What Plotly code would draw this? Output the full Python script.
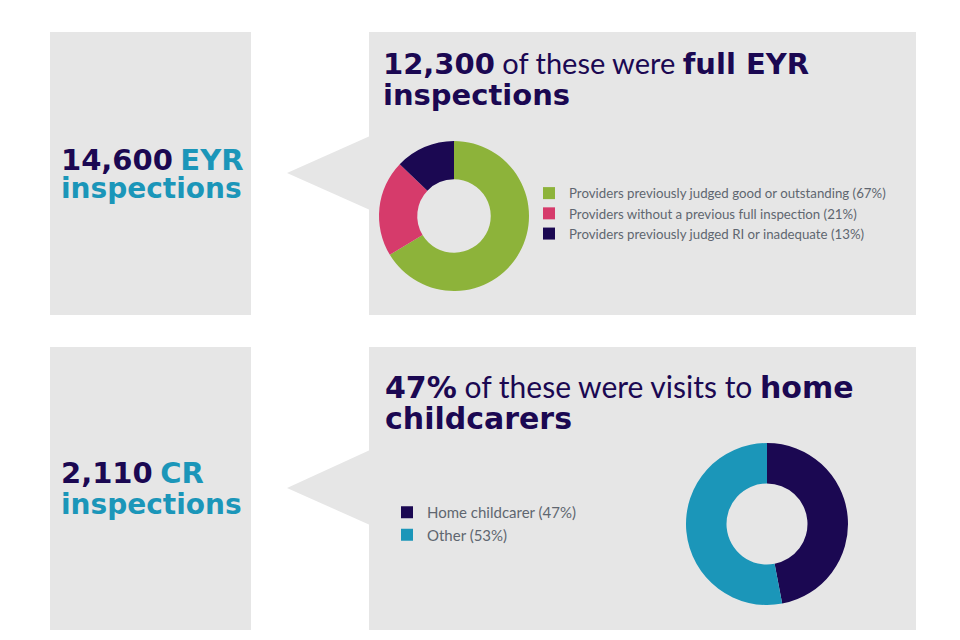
import plotly.graph_objects as go

# page body has an 8px margin; figure sized to fill the rest of the 960x640 window
OFF = 8
W, H = 960 - OFF, 640 - OFF

# ---- data ----
eyr_labels = ["Providers previously judged good or outstanding (67%)",
              "Providers without a previous full inspection (21%)",
              "Providers previously judged RI or inadequate (13%)"]
eyr_values = [67, 21, 13]
eyr_colors = ["#8DB33A", "#D63B6B", "#1B0852"]

cr_labels = ["Home childcarer (47%)", "Other (53%)"]
cr_values = [47, 53]
cr_colors = ["#1B0852", "#1B96B9"]

NAVY = "#1B0852"
TEAL = "#1B96B9"
GREY_BG = "#E6E6E6"
BOLD = "font-family:'DejaVu Sans';font-weight:bold"

def px(x):
    return (x - OFF) / W

def py(y):
    return 1 - (y - OFF) / H

fig = go.Figure()

fig.add_trace(go.Pie(
    labels=eyr_labels, values=eyr_values, sort=False, direction="clockwise",
    rotation=0, hole=0.49, textinfo="none",
    marker=dict(colors=eyr_colors, line=dict(width=0)),
    domain=dict(x=[px(379), px(529)], y=[py(291), py(141)]),
    legend="legend",
))
fig.add_trace(go.Pie(
    labels=cr_labels, values=cr_values, sort=False, direction="clockwise",
    rotation=0, hole=0.5, textinfo="none",
    marker=dict(colors=cr_colors, line=dict(width=0)),
    domain=dict(x=[px(686), px(848)], y=[py(605), py(443)]),
    legend="legend2",
))

shapes = []
for (x0, y0, x1, y1) in [(50, 32, 251, 315), (50, 347, 251, 630),
                         (369, 32, 916, 315), (369, 347, 916, 630)]:
    shapes.append(dict(type="rect", xref="paper", yref="paper",
                       x0=px(x0), x1=px(x1), y0=py(y1), y1=py(y0),
                       fillcolor=GREY_BG, line=dict(width=0), layer="below"))
for (tx, ty, top, bot) in [(287, 173, 136, 210), (287, 488, 450, 525)]:
    path = f"M {px(tx)} {py(ty)} L {px(370)} {py(top)} L {px(370)} {py(bot)} Z"
    shapes.append(dict(type="path", xref="paper", yref="paper", path=path,
                       fillcolor=GREY_BG, line=dict(width=0), layer="below"))

ann = []
def add_text(x, y, text, size=28):
    ann.append(dict(x=px(x), y=py(y), xref="paper", yref="paper",
                    xanchor="left", yanchor="middle", showarrow=False,
                    text=text, align="left",
                    font=dict(family="Lato", size=size, color=NAVY)))

add_text(59, 159, f"<span style=\"{BOLD};color:{NAVY}\">14,600</span> "
                  f"<span style=\"{BOLD};color:{TEAL}\">EYR</span>", 29)
add_text(59, 189, f"<span style=\"{BOLD};color:{TEAL}\">inspections</span>", 28)
add_text(59, 472, f"<span style=\"{BOLD};color:{NAVY}\">2,110</span> "
                  f"<span style=\"{BOLD};color:{TEAL}\">CR</span>", 29)
add_text(59, 504, f"<span style=\"{BOLD};color:{TEAL}\">inspections</span>", 28)

add_text(381, 63, f"<span style=\"{BOLD}\">12,300</span> of these were "
                  f"<span style=\"{BOLD}\">full EYR</span>", 29)
add_text(381, 95, f"<span style=\"{BOLD}\">inspections</span>", 29)
add_text(383, 386, f"<span style=\"{BOLD}\">47%</span> of these were visits to "
                   f"<span style=\"{BOLD}\">home</span>", 30)
add_text(383, 418, f"<span style=\"{BOLD}\">childcarers</span>", 30)

fig.update_layout(
    width=W, height=H,
    margin=dict(l=0, r=0, t=0, b=0),
    paper_bgcolor="white", plot_bgcolor="white",
    shapes=shapes, annotations=ann,
    showlegend=True,
    legend=dict(x=px(529), y=py(178), xanchor="left", yanchor="top",
                bgcolor="rgba(0,0,0,0)", itemwidth=30,
                font=dict(family="Lato", size=13.25, color="#5F6670"),
                itemclick=False, itemdoubleclick=False),
    legend2=dict(x=px(387), y=py(496), xanchor="left", yanchor="top",
                 bgcolor="rgba(0,0,0,0)", itemwidth=30,
                 font=dict(family="Lato", size=15, color="#5F6670"),
                 itemclick=False, itemdoubleclick=False),
)

fig.write_html("out.html")
